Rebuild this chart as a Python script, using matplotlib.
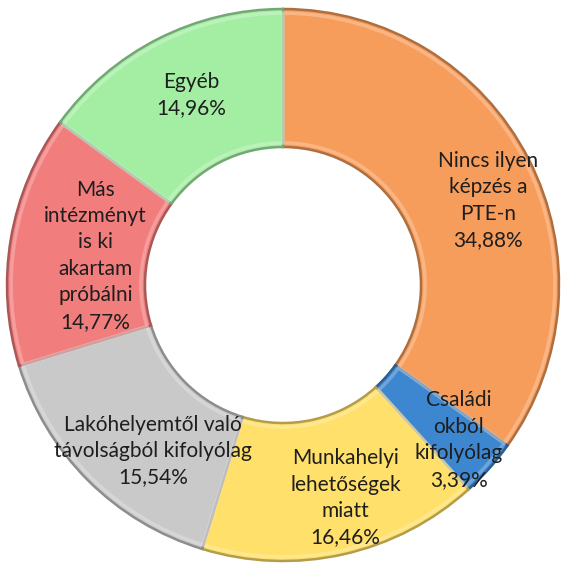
import matplotlib
matplotlib.use('Agg')
import matplotlib.pyplot as plt
import matplotlib.colors as mcolors
import numpy as np

# data, clockwise from 12 o'clock
labels = ['Nincs ilyen\nképzés a\nPTE-n', 'Családi\nokból\nkifolyólag',
          'Munkahelyi\nlehetőségek\nmiatt', 'Lakóhelyemtől való\ntávolságból kifolyólag',
          'Más\nintézményt\nis ki\nakartam\npróbálni', 'Egyéb']
values = [34.88, 3.39, 16.46, 15.54, 14.77, 14.96]
colors = ['#F79D5C', '#3D87D0', '#FFE06A', '#C9C9C9', '#F27D7D', '#A4EEA4']

# label nudges (radius, extra offset in data units)
label_r = [0.78, 0.80, 0.76, 0.78, 0.76, 0.76]
label_dx = [0.05, 0.04, 0.06, 0.08, 0.07, 0.01]
label_dy = [-0.05, -0.03, -0.03, -0.05, -0.02, 0.01]

plt.rcParams['font.family'] = ['Lato', 'DejaVu Sans']

fig = plt.figure(figsize=(5.63, 5.69), dpi=100)
ax = fig.add_axes([0, 0, 1, 1])

def darker(c, f=0.6):
    r, g, b = mcolors.to_rgb(c)
    return (r * f, g * f, b * f)

wedges, _ = ax.pie(values, colors=colors, startangle=90, counterclock=False,
                   radius=1.0, wedgeprops=dict(width=0.5, linewidth=1.8))
for w, c in zip(wedges, colors):
    w.set_edgecolor(darker(c, 0.7))

# soft inner bevel highlight
ax.pie(values, colors=['none'] * len(values), startangle=90, counterclock=False,
       radius=0.985, wedgeprops=dict(width=0.47, linewidth=2.5, edgecolor=(1, 1, 1, 0.25)))

total = sum(values)
cum = 0
for i, (lab, v) in enumerate(zip(labels, values)):
    mid = cum + v / 2
    cum += v
    ang = np.deg2rad(90 - 360 * mid / total)
    x = label_r[i] * np.cos(ang) + label_dx[i]
    y = label_r[i] * np.sin(ang) + label_dy[i]
    txt = lab + '\n' + f'{v:.2f}%'.replace('.', ',')
    ax.text(x, y, txt, ha='center', va='center', fontsize=15,
            color='#1e1e1e', linespacing=1.4)

ax.set_xlim(-283 / 276, (563 - 283) / 276)
ax.set_ylim(-(569 - 285) / 276, 285 / 276)
ax.set_aspect('auto')
ax.axis('off')

plt.savefig('out.png', dpi=100)
